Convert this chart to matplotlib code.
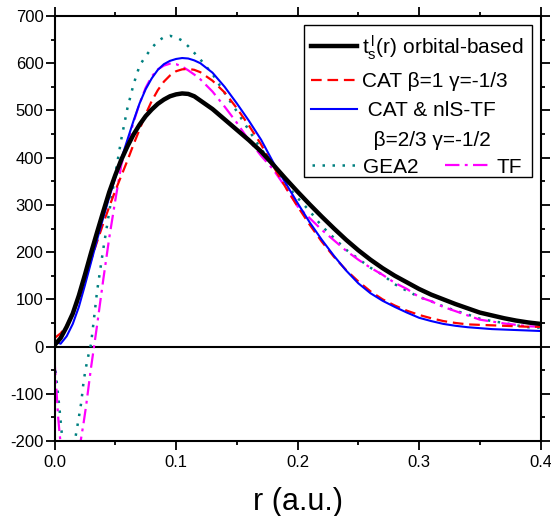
import matplotlib
matplotlib.use("Agg")
import matplotlib.pyplot as plt
from matplotlib.patches import Rectangle

plt.rcParams['font.family'] = ['Liberation Sans', 'DejaVu Sans']
plt.rcParams['mathtext.fontset'] = 'custom'
plt.rcParams['mathtext.rm'] = 'Liberation Sans'
plt.rcParams['mathtext.it'] = 'Liberation Sans:italic'
plt.rcParams['axes.unicode_minus'] = False

# ---- data ----
r_main = [0, 0.005, 0.01, 0.015, 0.02, 0.025, 0.03, 0.035, 0.04, 0.045, 0.05,
          0.055, 0.06, 0.065, 0.07, 0.075, 0.08, 0.085, 0.09, 0.095, 0.10,
          0.105, 0.11, 0.115, 0.12, 0.13, 0.14, 0.15, 0.16, 0.17, 0.18, 0.19,
          0.20, 0.21, 0.22, 0.23, 0.24, 0.25, 0.26, 0.27, 0.28, 0.29, 0.30,
          0.31, 0.32, 0.33, 0.34, 0.35, 0.36, 0.37, 0.38, 0.39, 0.40]

ts_orbital = [3, 18, 42, 70, 108, 152, 198, 242, 285, 327, 363,
              396, 424, 449, 470, 488, 502, 514, 523, 530, 534,
              536, 535, 530, 521, 503, 481, 459, 437, 413, 385, 356,
              328, 301, 275, 250, 226, 204, 184, 166, 150, 136, 122,
              110, 100, 90, 81, 72, 66, 60, 55, 51, 48]

cat_b1 = [18, 28, 45, 68, 100, 140, 183, 222, 260, 296, 330,
          362, 394, 428, 460, 492, 520, 543, 561, 574, 583,
          587, 588, 586, 581, 563, 538, 505, 468, 428, 382, 338,
          297, 258, 222, 190, 162, 138, 117, 100, 87, 76, 67,
          60, 54, 50, 47, 46, 45, 44, 43, 42, 42]

cat_nls = [12, 6, 22, 48, 84, 130, 178, 226, 272, 316, 358,
           398, 438, 478, 515, 545, 568, 586, 598, 605, 609,
           611, 610, 606, 600, 580, 550, 515, 478, 438, 390, 347,
           304, 263, 226, 192, 161, 134, 113, 97, 84, 72, 61,
           54, 48, 44, 41, 39, 37, 36, 35, 34, 33]

r_gea = [0, 0.002, 0.004, 0.006, 0.008, 0.010, 0.012, 0.014, 0.016, 0.018,
         0.020, 0.022, 0.024, 0.026, 0.028, 0.030, 0.0325, 0.035, 0.04,
         0.045, 0.05, 0.055, 0.06, 0.065, 0.07, 0.075, 0.08, 0.085, 0.09,
         0.095, 0.10, 0.105, 0.11, 0.115, 0.12, 0.13, 0.14, 0.15, 0.16,
         0.17, 0.18, 0.19, 0.20, 0.21, 0.22, 0.23, 0.24, 0.25, 0.26, 0.27,
         0.28, 0.29, 0.30, 0.31, 0.32, 0.33, 0.34, 0.35, 0.36, 0.37, 0.38,
         0.39, 0.40]
gea2 = [-30, -80, -130, -185, -225, -250, -255, -240, -212, -180,
        -150, -118, -72, -42, -17, 5, 60, 117, 205,
        285, 365, 440, 505, 555, 595, 615, 632, 647, 655,
        658, 655, 648, 636, 622, 608, 577, 537, 498, 458,
        418, 385, 345, 315, 287, 255, 230, 205, 186, 167, 152,
        132, 118, 105, 96, 85, 76, 68, 59, 54, 50, 45,
        41, 40]

r_tf = [0, 0.001, 0.002, 0.003, 0.004, 0.005, 0.007, 0.010, 0.013, 0.016,
        0.019, 0.0215, 0.024, 0.026, 0.028, 0.030, 0.0325, 0.035, 0.04,
        0.045, 0.05, 0.055, 0.06, 0.065, 0.07, 0.075, 0.08, 0.085, 0.09,
        0.095, 0.10, 0.105, 0.11, 0.115, 0.12, 0.13, 0.14, 0.15, 0.16,
        0.17, 0.18, 0.19, 0.20, 0.21, 0.22, 0.23, 0.24, 0.25, 0.26, 0.27,
        0.28, 0.29, 0.30, 0.31, 0.32, 0.33, 0.34, 0.35, 0.36, 0.37, 0.38,
        0.39, 0.40]
tf = [-30, -70, -110, -150, -180, -205, -250, -290, -300, -280,
      -240, -200, -160, -125, -85, -45, 0, 45, 140,
      230, 310, 385, 430, 475, 515, 548, 572, 587, 595,
      599, 598, 593, 585, 576, 566, 540, 508, 474, 437,
      404, 375, 338, 297, 272, 247, 225, 203, 184, 167, 152,
      135, 122, 105, 96, 84, 75, 66, 57, 53, 49, 46,
      43, 42]

labels = [r'$\mathrm{t_s^{\,l}}$(r) orbital-based',
          'CAT β=1 γ=-1/3',
          'CAT & nlS-TF',
          'β=2/3 γ=-1/2',
          'GEA2', 'TF']

x_ticks = [0.0, 0.1, 0.2, 0.3, 0.4]
y_ticks = [-200, -100, 0, 100, 200, 300, 400, 500, 600, 700]

# ---- figure ----
fig = plt.figure(figsize=(5.51, 5.16), dpi=100)
ax = fig.add_axes([0.099, 0.1453, 0.882, 0.8237])

h_gea, = ax.plot(r_gea, gea2, color='#008080', lw=1.8, dashes=(1, 3))
h_tf, = ax.plot(r_tf, tf, color='#FF00FF', lw=1.6, dashes=(6.5, 2.4, 1.3, 2.4))
h_red, = ax.plot(r_main, cat_b1, color='#FF0000', lw=1.6, dashes=(4.8, 2.6))
h_blue, = ax.plot(r_main, cat_nls, color='#0000FF', lw=1.5)
h_black, = ax.plot(r_main, ts_orbital, color='black', lw=3.2)
ax.axhline(0, color='black', lw=1.5, zorder=1)

ax.set_xlim(0, 0.4)
ax.set_ylim(-200, 700)
ax.set_xticks(x_ticks)
ax.set_xticklabels([f'{v:.1f}' for v in x_ticks])
ax.set_yticks(y_ticks)
ax.set_xticks([0.05, 0.15, 0.25, 0.35], minor=True)
ax.set_yticks([-150, -50, 50, 150, 250, 350, 450, 550, 650], minor=True)
ax.tick_params(which='both', direction='out', top=True, right=True, width=1.3,
               labelsize=12)
ax.tick_params(which='major', length=6.5)
ax.tick_params(which='minor', length=3)
ax.tick_params(axis='y', pad=1.5)
ax.tick_params(axis='x', pad=3.5)
for s in ax.spines.values():
    s.set_linewidth(1.5)

ax.set_xlabel('r (a.u.)', fontsize=22, labelpad=12)

from matplotlib.lines import Line2D
blank = Line2D([], [], color='none')
leg1 = ax.legend([h_black, h_red, h_blue, blank],
                 [labels[0], labels[1], ' ' + labels[2], '  ' + labels[3]],
                 loc='upper right', bbox_to_anchor=(0.983, 0.979),
                 borderaxespad=0, fontsize=15, frameon=False,
                 handlelength=2.2, handletextpad=0.25, labelspacing=0.5,
                 borderpad=0.38)
ax.add_artist(leg1)

fig.canvas.draw()
inv = ax.transAxes.inverted()
lb = leg1.get_window_extent()
t4 = leg1.get_texts()[3].get_window_extent()
row5_y = (t4.y0 + t4.y1) / 2 - 27
(x0, y0) = inv.transform((lb.x0 + 8, row5_y))

leg2 = ax.legend([h_gea, h_tf], [labels[4], labels[5]], ncol=2,
                 loc='center left', bbox_to_anchor=(x0, y0),
                 borderaxespad=0, borderpad=0, fontsize=15, frameon=False,
                 handlelength=2.2, handletextpad=0.25, columnspacing=1.3)

# frame enclosing both legend blocks
(fx0, fy0) = inv.transform((lb.x0, row5_y - 10))
(fx1, fy1) = inv.transform((lb.x1, lb.y1))
frame = Rectangle((fx0, fy0), fx1 - fx0, fy1 - fy0, transform=ax.transAxes,
                  facecolor='white', edgecolor='black', lw=1.0, zorder=4.5)
ax.add_patch(frame)

fig.savefig('out.png', dpi=100)
